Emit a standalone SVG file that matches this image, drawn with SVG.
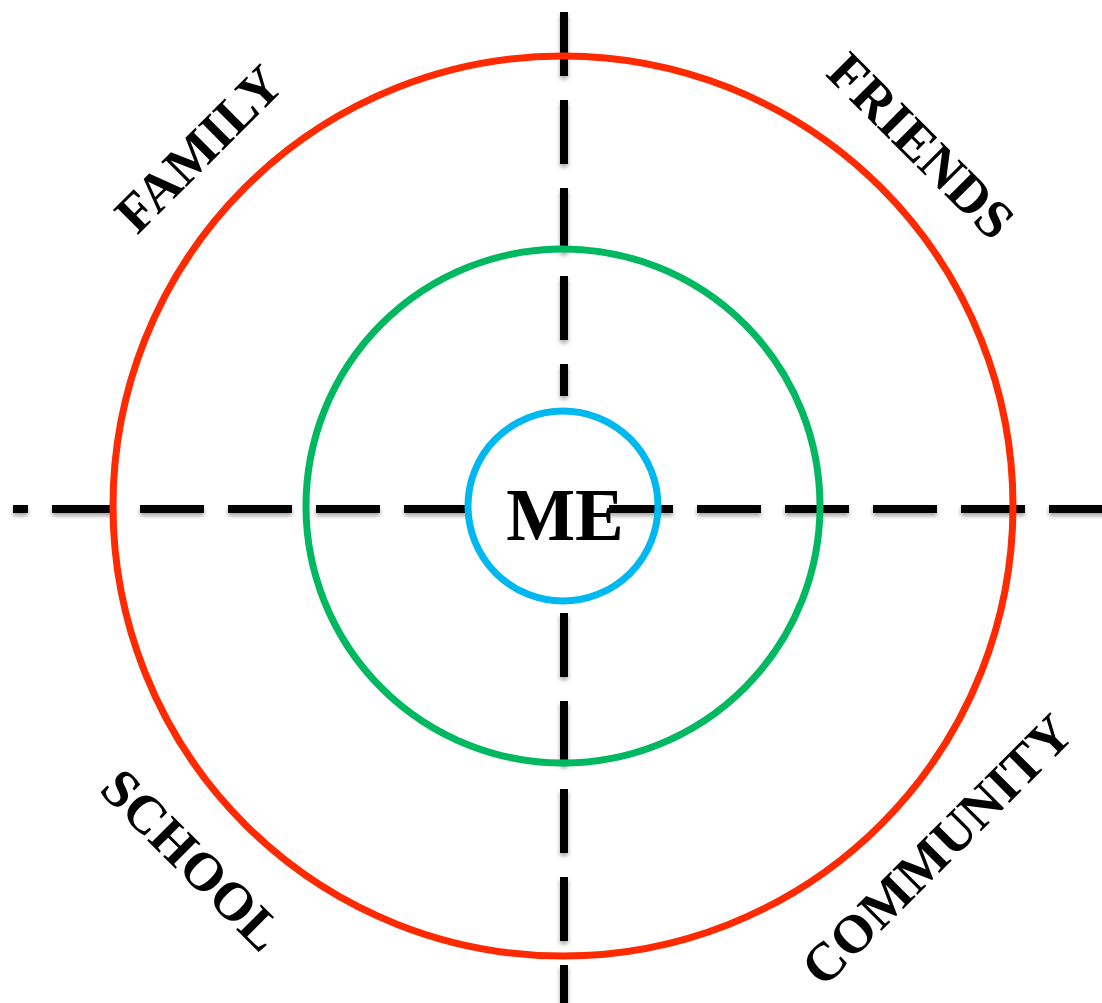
<svg xmlns="http://www.w3.org/2000/svg" width="1102" height="1003" viewBox="0 0 1102 1003">
<defs>
<filter id="sh" x="-10%" y="-10%" width="120%" height="130%">
<feDropShadow dx="0" dy="3" stdDeviation="2" flood-color="#000" flood-opacity="0.35"/>
</filter>
<style>
.dash{stroke:#000;stroke-width:8;stroke-dasharray:64 24;fill:none}
.ring{fill:none;stroke-width:7}
.lbl{font-family:"Liberation Serif","Times New Roman",serif;font-weight:bold;font-size:54px;fill:#000;text-anchor:middle}
</style>
</defs>
<rect width="1102" height="1003" fill="#fff"/>
<g id="connectors" filter="url(#sh)">
<line class="dash" x1="13" y1="509" x2="470" y2="509" stroke-dashoffset="49"/>
<line class="dash" x1="609" y1="509" x2="1110" y2="509"/>
<line class="dash" x1="564" y1="12" x2="564" y2="396"/>
<line class="dash" x1="564" y1="613" x2="564" y2="1010"/>
</g>
<g id="outer-ring"><circle class="ring" cx="563" cy="506" r="450" stroke="#FF2A00"/></g>
<g id="middle-ring"><circle class="ring" cx="563" cy="506" r="257" stroke="#00B860"/></g>
<g id="me"><circle class="ring" cx="563" cy="506" r="95" stroke="#00B8F0" fill="#fff"/>
<text class="lbl" x="565" y="540" style="font-size:73px">ME</text></g>
<g id="family"><text class="lbl" transform="translate(199,149) rotate(-45)" dy="0.33em">FAMILY</text></g>
<g id="friends"><text class="lbl" transform="translate(921,146) rotate(45)" dy="0.33em">FRIENDS</text></g>
<g id="school"><text class="lbl" transform="translate(192,860) rotate(45)" dy="0.33em">SCHOOL</text></g>
<g id="community"><text class="lbl" transform="translate(937,850) rotate(-45)" dy="0.33em">COMMUNITY</text></g>
</svg>
